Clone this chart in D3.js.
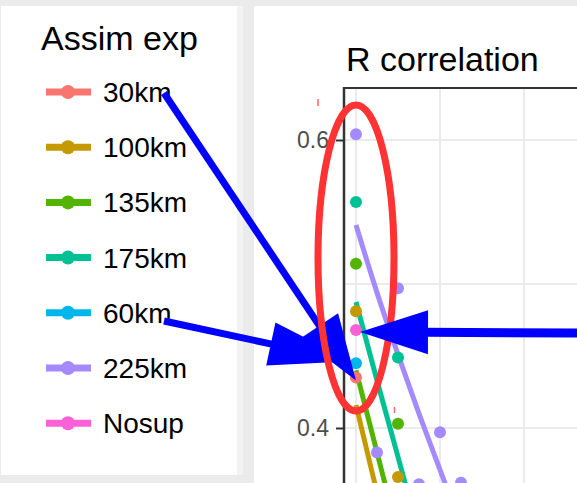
<html>
<head>
    <title>R correlation</title>
    <script src="https://d3js.org/d3.v7.min.js"></script>
    <style>
        body { margin: 0; background-color: #ebebeb; }
        svg text { font-family: "Liberation Sans", Arial, Helvetica, sans-serif; }
    </style>
</head>
<body>
    <div id="chart"></div>
    <script>
        var width = 577, height = 483;

        // legend order, ggplot default hue colours
        var experiments = ["30km", "100km", "135km", "175km", "60km", "225km", "Nosup"];
        var colours = ["#F8766D", "#C49A00", "#53B400", "#00C094", "#00B6EB", "#A58AFF", "#FB61D7"];

        // observed points: [step, R]
        var points30 = [[0, 0.435]];
        var points100 = [[0, 0.481], [2, 0.366]];
        var points135 = [[0, 0.514], [2, 0.403]];
        var points175 = [[0, 0.557], [2, 0.449]];
        var points60 = [[0, 0.445]];
        var points225 = [[0, 0.604], [1, 0.383], [2, 0.497], [3, 0.361], [4, 0.397], [5, 0.362]];
        var pointsNosup = [[0, 0.468]];

        // smoothed fits, one value per step starting at 0
        var fit100 = [0.416, 0.355, 0.295];
        var fit135 = [0.440, 0.383, 0.326];
        var fit175 = [0.4875, 0.433, 0.380, 0.326];
        var fit225 = [0.541, 0.494, 0.451, 0.410, 0.371, 0.332];

        var xGrid = [0, 4, 8];
        var yGrid = [0.4, 0.5, 0.6];
        var yTicks = [0.4, 0.6];

        var svg = d3.select("#chart").append("svg")
                    .attr("width", width)
                    .attr("height", height);

        // two white boards on the grey page
        svg.append("rect").attr("x", 1).attr("y", 6).attr("width", 236).attr("height", 469).attr("fill", "white");
        svg.append("rect").attr("x", 237).attr("y", 6).attr("width", 6).attr("height", 469).attr("fill", "#f3f3f3");
        svg.append("rect").attr("x", 254).attr("y", 6).attr("width", 330).attr("height", 490).attr("fill", "white");

        // ---- legend ----
        var legend = svg.append("g");
        legend.append("text")
              .attr("x", 41).attr("y", 50)
              .attr("font-size", 34)
              .attr("fill", "black")
              .text("Assim exp");

        var keys = legend.selectAll("g.key").data(experiments).enter().append("g")
                         .attr("class", "key")
                         .attr("transform", function(d, i){ return "translate(0," + (92 + i * 55.2) + ")"; });
        keys.append("line")
            .attr("x1", 46).attr("x2", 91)
            .attr("stroke", function(d, i){ return colours[i]; })
            .attr("stroke-width", 7);
        keys.append("circle")
            .attr("cx", 68).attr("r", 7)
            .attr("fill", function(d, i){ return colours[i]; });
        keys.append("text")
            .attr("x", 103).attr("y", 10)
            .attr("font-size", 28)
            .attr("fill", "black")
            .text(function(d){ return d; });

        // ---- plot panel ----
        var panel = {left: 344, top: 88};
        var x = d3.scaleLinear().domain([0, 4]).range([356, 440]);
        var y = d3.scaleLinear().domain([0.4, 0.6]).range([428, 140]);

        svg.append("text")
           .attr("x", 346).attr("y", 71)
           .attr("font-size", 34)
           .attr("fill", "black")
           .text("R correlation");

        svg.append("clipPath").attr("id", "panel-clip")
           .append("rect").attr("x", panel.left).attr("y", panel.top)
           .attr("width", width - panel.left).attr("height", height - panel.top);

        var plot = svg.append("g").attr("clip-path", "url(#panel-clip)");

        plot.selectAll("line.vgrid").data(xGrid).enter().append("line")
            .attr("x1", function(d){ return x(d); }).attr("x2", function(d){ return x(d); })
            .attr("y1", panel.top).attr("y2", height)
            .attr("stroke", "#ebebeb").attr("stroke-width", 2);
        plot.selectAll("line.hgrid").data(yGrid).enter().append("line")
            .attr("x1", panel.left).attr("x2", width)
            .attr("y1", function(d){ return y(d); }).attr("y2", function(d){ return y(d); })
            .attr("stroke", "#ebebeb").attr("stroke-width", 2);

        var fits = [
            {values: fit100, colour: colours[1]},
            {values: fit135, colour: colours[2]},
            {values: fit175, colour: colours[3]},
            {values: fit225, colour: colours[5]}
        ];
        var smooth = d3.line()
                       .x(function(d, i){ return x(i); })
                       .y(function(d){ return y(d); })
                       .curve(d3.curveMonotoneX);
        fits.forEach(function(f){
            plot.append("path")
                .attr("d", smooth(f.values))
                .attr("fill", "none")
                .attr("stroke", f.colour)
                .attr("stroke-width", 5)
                .attr("stroke-linecap", "butt");
        });

        var pointSets = [
            {values: points30, colour: colours[0]},
            {values: points100, colour: colours[1]},
            {values: points135, colour: colours[2]},
            {values: points175, colour: colours[3]},
            {values: points60, colour: colours[4]},
            {values: points225, colour: colours[5]},
            {values: pointsNosup, colour: colours[6]}
        ];
        pointSets.forEach(function(p){
            plot.selectAll(null).data(p.values).enter().append("circle")
                .attr("cx", function(d){ return x(d[0]); })
                .attr("cy", function(d){ return y(d[1]); })
                .attr("r", 6)
                .attr("fill", p.colour);
        });

        // axis and panel border
        var yAxis = d3.axisLeft(y).tickValues(yTicks).tickSize(8).tickPadding(7).tickFormat(d3.format(".1f"));
        var axisG = svg.append("g").attr("transform", "translate(" + panel.left + ",0)").call(yAxis);
        axisG.select(".domain").remove();
        axisG.selectAll(".tick line").attr("stroke", "#333333").attr("stroke-width", 2);
        axisG.selectAll(".tick text")
             .attr("font-size", 23)
             .attr("fill", "#4d4d4d")
             .attr("font-family", "Liberation Sans, Arial, sans-serif");

        svg.append("line").attr("x1", panel.left).attr("x2", panel.left)
           .attr("y1", panel.top - 1).attr("y2", height)
           .attr("stroke", "#333333").attr("stroke-width", 2.5);
        svg.append("line").attr("x1", panel.left).attr("x2", width)
           .attr("y1", panel.top).attr("y2", panel.top)
           .attr("stroke", "#333333").attr("stroke-width", 2);

        // ---- annotations ----
        function draw_arrow(from, to, lineWidth, headLength, headWidth)
        {
            var dx = to[0] - from[0], dy = to[1] - from[1];
            var len = Math.sqrt(dx * dx + dy * dy);
            var ux = dx / len, uy = dy / len;
            var bx = to[0] - ux * headLength, by = to[1] - uy * headLength;
            svg.append("line")
               .attr("x1", from[0]).attr("y1", from[1])
               .attr("x2", bx + ux * 2).attr("y2", by + uy * 2)
               .attr("stroke", "#0000ff").attr("stroke-width", lineWidth);
            svg.append("polygon")
               .attr("points", [
                   [to[0], to[1]],
                   [bx - uy * headWidth / 2, by + ux * headWidth / 2],
                   [bx + uy * headWidth / 2, by - ux * headWidth / 2]
               ].map(function(p){ return p.join(","); }).join(" "))
               .attr("fill", "#0000ff");
        }

        // small red marks
        svg.append("line").attr("x1", 318).attr("x2", 318).attr("y1", 99).attr("y2", 106)
           .attr("stroke", "#ff6666").attr("stroke-width", 1.5);
        svg.append("line").attr("x1", 394.5).attr("x2", 394.5).attr("y1", 407).attr("y2", 413)
           .attr("stroke", "#ff6666").attr("stroke-width", 1.5);

        // arrows from the legend labels to the 30km and 60km points
        draw_arrow([164, 93], [x(0), y(points30[0][1]) + 3], 7, 66, 45);
        draw_arrow([164, 321], [x(0) - 5, y(points60[0][1]) - 2], 7, 82, 44);

        svg.append("ellipse")
           .attr("cx", x(0)).attr("cy", y(0.518))
           .attr("rx", 38).attr("ry", 153)
           .attr("fill", "none")
           .attr("stroke", "#ff3333")
           .attr("stroke-width", 7);

        // arrow from the right to the Nosup point
        draw_arrow([width + 10, 333], [x(0) + 4, y(pointsNosup[0][1]) + 2], 9, 68, 44);
    </script>
</body>
</html>
